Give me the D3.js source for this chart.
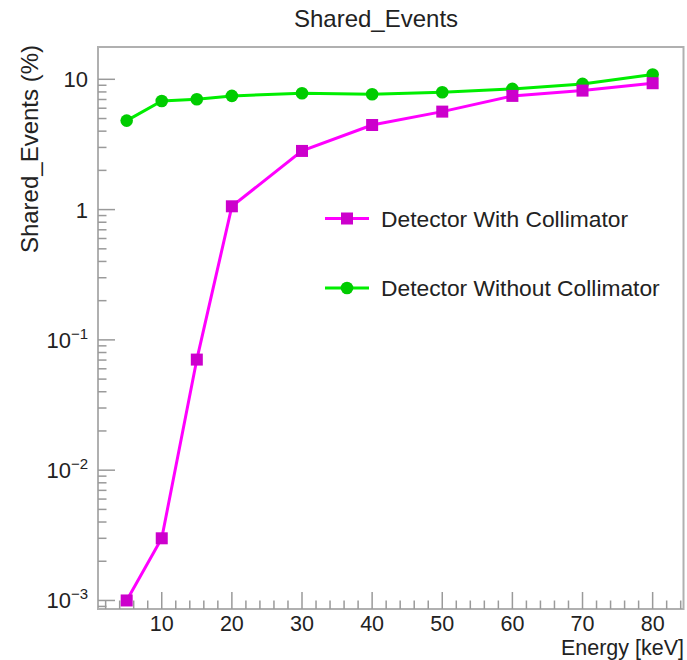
<!DOCTYPE html>
<html>
<head>
<meta charset="utf-8">
<script src="https://cdn.jsdelivr.net/npm/d3@7"></script>
<style>
  html, body { margin: 0; padding: 0; background: #fff; }
  svg { display: block; }
  text { font-family: "Liberation Sans", Arial, Helvetica, sans-serif; fill: #222; }
</style>
</head>
<body>
<script>
// ---- data ----
const energies = [5, 10, 15, 20, 30, 40, 50, 60, 70, 80];
const withCollimator = [0.001, 0.0030, 0.0706, 1.06, 2.82, 4.46, 5.65, 7.46, 8.19, 9.33];
const withoutCollimator = [4.82, 6.82, 7.03, 7.46, 7.82, 7.68, 7.96, 8.44, 9.22, 10.9];
const seriesNames = ["Detector With Collimator", "Detector Without Collimator"];
const xMajorTicks = [10, 20, 30, 40, 50, 60, 70, 80];
const yMajorExponents = [-3, -2, -1, 0, 1];
const title = "Shared_Events";
const xTitle = "Energy [keV]";
const yTitle = "Shared_Events (%)";

const W = 687, H = 660;
const frame = { left: 98, right: 683.5, top: 47, bottom: 609 };

const svg = d3.select("body").append("svg").attr("width", W).attr("height", H);

const x = d3.scaleLinear().domain([0.91, 84.4]).range([frame.left, frame.right]);
const y = d3.scaleLog().domain([8.6e-4, 17.7]).range([frame.bottom, frame.top]);

const axisColor = "#9a9a9a";

// frame
svg.append("rect")
  .attr("x", frame.left).attr("y", frame.top)
  .attr("width", frame.right - frame.left).attr("height", frame.bottom - frame.top)
  .attr("fill", "none").attr("stroke", "#b0b0b0").attr("stroke-width", 2);

// x ticks
const xMinor = d3.range(2, 85, 2).filter(v => v >= x.domain()[0] && v <= x.domain()[1]);
const gx = svg.append("g");
xMinor.forEach(v => {
  const major = xMajorTicks.includes(v);
  gx.append("line")
    .attr("x1", x(v)).attr("x2", x(v))
    .attr("y1", frame.bottom).attr("y2", frame.bottom - (major ? 17 : 8.5))
    .attr("stroke", axisColor).attr("stroke-width", 1.5);
});
xMajorTicks.forEach(v => {
  gx.append("text").attr("x", x(v)).attr("y", 631)
    .attr("text-anchor", "middle").attr("font-size", 21.5).text(v);
});

// y ticks
const gy = svg.append("g");
const yMinor = [];
for (let e = -4; e <= 1; e++) {
  for (let m = 1; m <= 9; m++) {
    const v = m * Math.pow(10, e);
    if (v >= y.domain()[0] && v <= y.domain()[1]) yMinor.push({ v, major: m === 1 });
  }
}
yMinor.forEach(d => {
  gy.append("line")
    .attr("x1", frame.left).attr("x2", frame.left + (d.major ? 17 : 8.5))
    .attr("y1", y(d.v)).attr("y2", y(d.v))
    .attr("stroke", axisColor).attr("stroke-width", 1.5);
});
yMajorExponents.forEach(e => {
  const v = Math.pow(10, e);
  const t = gy.append("text").attr("x", 88).attr("y", y(v) + 8)
    .attr("text-anchor", "end").attr("font-size", 22);
  if (e === 0) t.text("1");
  else if (e === 1) t.text("10");
  else {
    t.append("tspan").text("10");
    t.append("tspan").attr("font-size", 15).attr("dy", -9).text("\u2212" + Math.abs(e));
  }
});

// titles
svg.append("text").attr("x", 376).attr("y", 27).attr("text-anchor", "middle")
  .attr("font-size", 24).text(title);
svg.append("text").attr("x", 684).attr("y", 655).attr("text-anchor", "end")
  .attr("font-size", 21.5).text(xTitle);
svg.append("text").attr("transform", "translate(38,45) rotate(-90)")
  .attr("text-anchor", "end").attr("font-size", 24).text(yTitle);

// series
const series = [
  { name: seriesNames[0], values: withCollimator, line: "#ff00ff", marker: "#cc00cc", shape: "square" },
  { name: seriesNames[1], values: withoutCollimator, line: "#00ee00", marker: "#00cc00", shape: "circle" }
];
const line = d3.line().x(d => x(d[0])).y(d => y(d[1]));

function drawMarker(g, shape, cx, cy, color) {
  if (shape === "square") {
    g.append("rect").attr("x", cx - 6).attr("y", cy - 6).attr("width", 12).attr("height", 12).attr("fill", color);
  } else {
    g.append("circle").attr("cx", cx).attr("cy", cy).attr("r", 6.3).attr("fill", color);
  }
}

// draw green first, then magenta on top
[series[1], series[0]].forEach(s => {
  const pts = energies.map((e, i) => [e, s.values[i]]);
  const g = svg.append("g");
  g.append("path").attr("d", line(pts)).attr("fill", "none")
    .attr("stroke", s.line).attr("stroke-width", 3);
  pts.forEach(p => drawMarker(g, s.shape, x(p[0]), y(p[1]), s.marker));
});

// legend
const legendRows = [218.5, 288];
series.forEach((s, i) => {
  const g = svg.append("g");
  const ly = legendRows[i];
  g.append("line").attr("x1", 325).attr("x2", 369).attr("y1", ly).attr("y2", ly)
    .attr("stroke", s.line).attr("stroke-width", 3);
  drawMarker(g, s.shape, 347, ly, s.marker);
  g.append("text").attr("x", 381).attr("y", ly + 8).attr("font-size", 22.8).text(s.name);
});
</script>
</body>
</html>
